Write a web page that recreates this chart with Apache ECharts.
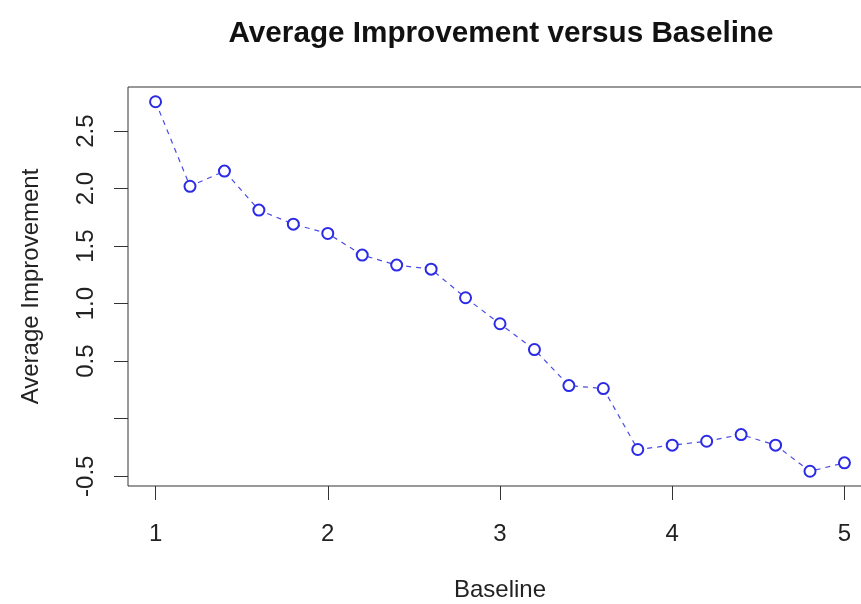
<!DOCTYPE html>
<html>
<head>
<meta charset="utf-8">
<script src="https://cdn.jsdelivr.net/npm/echarts@6/dist/echarts.min.js"></script>
<style>html,body{margin:0;padding:0;background:#fff}#c{width:861px;height:604px}</style>
</head>
<body>
<div id="c"></div>
<script>
// Data
const baseline = [1.0,1.2,1.4,1.6,1.8,2.0,2.2,2.4,2.6,2.8,3.0,3.2,3.4,3.6,3.8,4.0,4.2,4.4,4.6,4.8,5.0];
const avgImprovement = [2.755,2.02,2.152,1.813,1.691,1.61,1.422,1.335,1.30,1.051,0.825,0.601,0.288,0.262,-0.268,-0.230,-0.196,-0.138,-0.230,-0.457,-0.384];
const xTicks = [1,2,3,4,5];
const yTicks = [-0.5,0,0.5,1,1.5,2,2.5];
const yTickLabels = [-0.5,0.5,1,1.5,2,2.5];

const FONT = 'Liberation Sans, Arial, Helvetica, sans-serif';
const chart = echarts.init(document.getElementById('c'), null, {renderer:'canvas'});
chart.setOption({
  animation:false,
  backgroundColor:'#ffffff',
  title:{
    text:'Average Improvement versus Baseline',
    left:496, top:14, textAlign:'center',
    textStyle:{fontFamily:FONT,fontWeight:'bold',fontSize:29.7,color:'#111'}
  },
  grid:{left:128, top:87, width:744, height:399, show:true, borderColor:'#333', borderWidth:1, backgroundColor:'transparent', outerBoundsMode:'none', containLabel:false},
  xAxis:{
    type:'value', min:0.84, max:5.16,
    name:'Baseline', nameLocation:'middle', nameGap:92,
    nameTextStyle:{fontFamily:FONT,fontSize:24,color:'#222'},
    axisLine:{show:false, onZero:false},
    splitLine:{show:false},
    axisTick:{show:true, length:14, lineStyle:{color:'#333',width:1}, customValues:xTicks},
    axisLabel:{margin:36, fontFamily:FONT, fontSize:24, color:'#222', customValues:xTicks, formatter:v=>String(v)}
  },
  yAxis:{
    type:'value', min:-0.585, max:2.883,
    name:'Average Improvement', nameLocation:'middle', nameGap:85, nameRotate:90,
    nameTextStyle:{fontFamily:FONT,fontSize:24,color:'#222'},
    axisLine:{show:false, onZero:false},
    splitLine:{show:false},
    axisTick:{show:true, length:14, lineStyle:{color:'#333',width:1}, customValues:yTicks},
    axisLabel:{margin:30, rotate:90, fontFamily:FONT, fontSize:24, color:'#222', customValues:yTickLabels, formatter:v=>Number(v).toFixed(1)}
  },
  series:[{
    type:'line',
    data:baseline.map((x,i)=>[x,avgImprovement[i]]),
    symbol:'emptyCircle', symbolSize:11,
    itemStyle:{color:'#2b2be6', borderColor:'#2b2be6', borderWidth:1.5},
    lineStyle:{color:'#4a4ae6', width:1.2, type:[5,5]},
    clip:false
  }]
});
</script>
</body>
</html>
